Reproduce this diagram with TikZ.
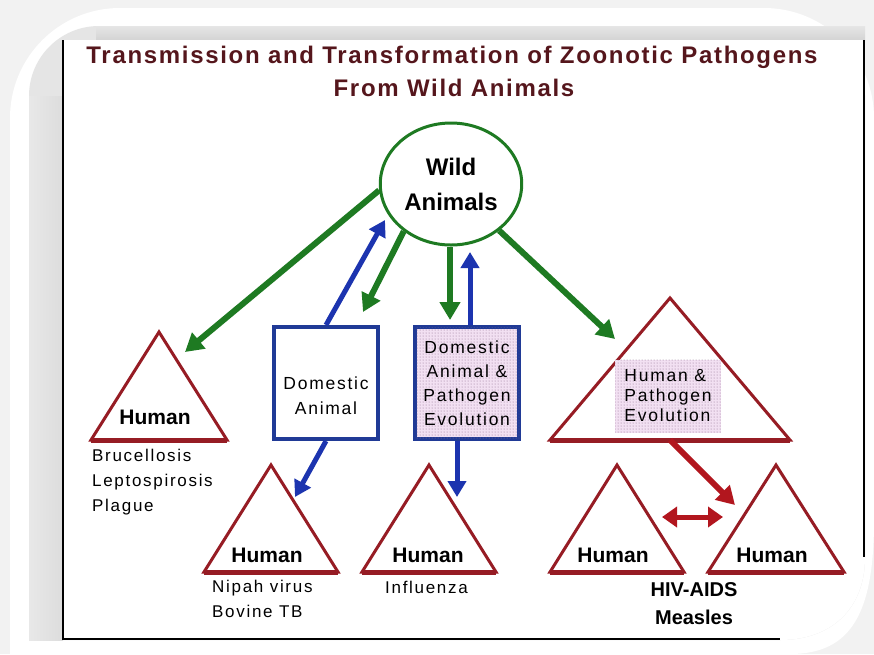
\documentclass[tikz,border=0pt]{standalone}
\usepackage{fontspec}
\setmainfont{Liberation Sans}
\newfontfamily\spaced[LetterSpace=10]{Liberation Sans}
\newfontfamily\ttlfont[LetterSpace=7]{Liberation Sans}
\usetikzlibrary{shapes.geometric,arrows.meta,patterns}
\definecolor{wgreen}{RGB}{30,122,34}
\definecolor{dblue}{RGB}{28,52,175}
\definecolor{bblue}{RGB}{32,58,150}
\definecolor{tred}{RGB}{150,28,36}
\definecolor{ared}{RGB}{178,22,30}
\definecolor{ttl}{RGB}{85,22,28}
\definecolor{evo}{RGB}{242,224,242}
\definecolor{evodot}{RGB}{140,110,140}
\begin{document}
\begin{tikzpicture}[x=1pt,y=-1pt,
  tri/.style={draw=tred,line width=3pt},
  tribase/.style={draw=tred,line width=5pt},
  hum/.style={font=\fontsize{21}{21}\selectfont\bfseries},
  dis/.style={font=\fontsize{17}{25}\selectfont\spaced,align=left,anchor=north west,inner sep=0pt},
  garrow/.style={draw=wgreen,line width=6pt,-{Triangle[width=20pt,length=18pt]}},
  barrow/.style={draw=dblue,line width=5pt,-{Triangle[width=18pt,length=16pt]}},
  rarrow/.style={draw=ared,line width=6pt,-{Triangle[width=20pt,length=18pt]}},
  dbox/.style={draw=bblue,line width=4pt,minimum width=104pt,minimum height=112pt,align=center,font=\fontsize{17.5}{24}\selectfont\spaced},
  evofill/.style={fill=evo,postaction={pattern=dots,pattern color=evodot}}]
\useasboundingbox (0,0) rectangle (874,654);
\fill[gray!10] (0,0) rectangle (874,654);
\fill[white] (10,654) [rounded corners=110pt] -- (10,8) -- (874,8) [sharp corners] -- (874,520) .. controls (874,612) and (852,654) .. (790,654) -- cycle;
\fill[gray!20] (29,640) [rounded corners=70pt] -- (29,26) -- (865,26) [sharp corners] -- (865,557) .. controls (865,610) and (830,640) .. (780,640) -- cycle;
\shade[top color=gray!20,bottom color=gray!34] (96,26) rectangle (865,40);
\shade[left color=gray!18,right color=gray!27] (29,96) rectangle (63,640);
\fill[white] (63,640) -- (63,40) -- (865,40) -- (865,557) .. controls (865,610) and (830,640) .. (780,640) -- cycle;
\draw[line width=2pt] (63,40) -- (63,639) -- (780,639);
\draw[line width=2pt] (864,40) -- (864,557);

\node[text=ttl,font=\fontsize{24}{24}\selectfont\ttlfont\bfseries] (title) at (452,57) {Transmission and Transformation of Zoonotic Pathogens};
\node[text=ttl,font=\fontsize{24}{24}\selectfont\ttlfont\bfseries] (sub) at (454,88) {From Wild Animals};

\node[draw=wgreen,line width=3pt,ellipse,minimum width=130pt,minimum height=122pt,align=center,font=\fontsize{24}{35}\selectfont\bfseries] (wa) at (451,184) {Wild\\Animals};

\node[dbox,fill=white] (da) at (326,383) {};
\node[align=center,font=\fontsize{17.5}{25}\selectfont\spaced] (dat) at (326,396) {Domestic\\Animal};
\node[dbox,evofill] (dape) at (467,383) {Domestic\\Animal \&\\Pathogen\\Evolution};

\foreach \t/\ax/\ay/\hw/\by in {t1/159/332/68/440,t2/271/465/67/572,t3/429/465/67/572,t4/670/298/120/440,t5/617/465/67/572,t6/776/465/68/572}{
  \draw[tri] (\ax-\hw,\by) coordinate (\t-l) -- (\ax,\ay) coordinate (\t-a) -- (\ax+\hw,\by) coordinate (\t-r) -- cycle;
  \draw[tribase] (\t-l) -- (\t-r);
}
\node[evofill,font=\fontsize{17.5}{20}\selectfont\spaced,align=left,minimum width=106pt,minimum height=73pt,inner sep=1pt] (hpe) at (668,396) {Human \&\\Pathogen\\Evolution};

\node[hum] (h1) at (155,417) {Human};
\node[hum] (h2) at (267,555) {Human};
\node[hum] (h3) at (428,555) {Human};
\node[hum] (h5) at (613,555) {Human};
\node[hum] (h6) at (772,555) {Human};

\node[dis] (d1) at (92,449) {Brucellosis\\Leptospirosis\\Plague};
\node[dis] (d2) at (212,580) {Nipah virus\\Bovine TB};
\node[dis] (d3) at (385,581) {Influenza};
\node[font=\fontsize{20}{28}\selectfont\bfseries,align=center,anchor=north,inner sep=0pt] (d4) at (694,582) {HIV-AIDS\\Measles};

\coordinate (e1) at (185,352);
\coordinate (e2) at (363,312);
\coordinate (e3) at (450,320);
\coordinate (e4) at (615,339);
\coordinate (e5) at (385,220);
\coordinate (e6) at (470,252);
\coordinate (e7) at (295,497);
\coordinate (e8) at (457,497);
\coordinate (e9) at (735,505);
\coordinate (e10) at (662,517);
\coordinate (e11) at (723,517);
\draw[garrow] (wa.185) -- (e1);
\draw[garrow] (wa.225) -- (e2);
\draw[garrow] (wa.south -| e3) -- (e3);
\draw[garrow] (wa.316) -- (e4);
\draw[barrow] (da.north) -- (e5);
\draw[barrow] (dape.north -| e6) -- (e6);
\draw[barrow] (da.south) -- (e7);
\draw[barrow] (dape.south -| e8) -- (e8);
\draw[rarrow] (t4-a |- t4-l) -- (e9);
\draw[rarrow,line width=5pt,{Triangle[width=20pt,length=15pt]}-{Triangle[width=20pt,length=15pt]}] (e10) -- (e11);
\end{tikzpicture}
\end{document}
